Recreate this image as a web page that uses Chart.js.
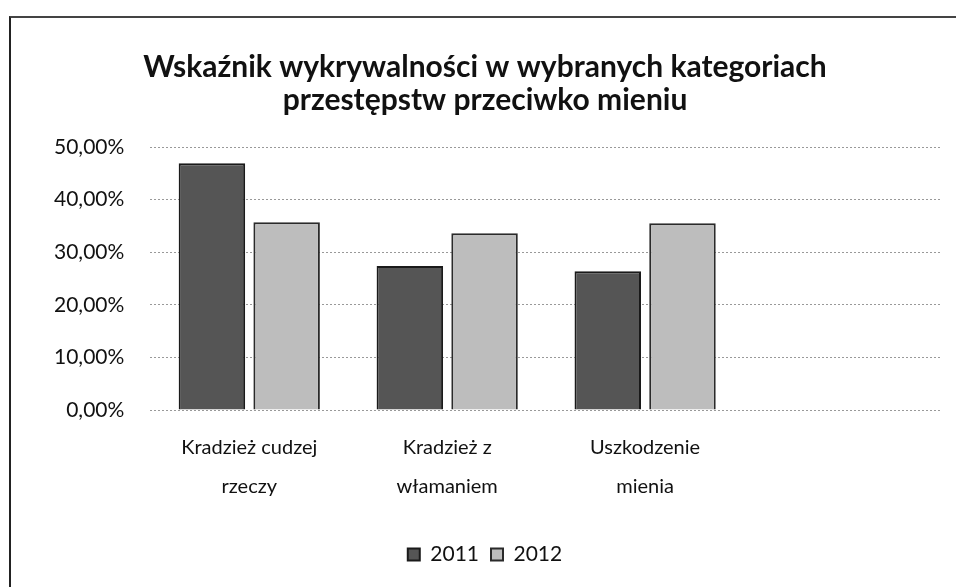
<!DOCTYPE html>
<html>
<head>
<meta charset="utf-8">
<script src="https://cdn.jsdelivr.net/npm/chart.js@4"></script>
<style>
    body { margin: 0; background: #fff; }
    #wrap { position: relative; width: 956px; height: 587px; }
    #frame { position: absolute; left: 9px; top: 16px; right: 0; bottom: 0; border-left: 2px solid #222; border-top: 2px solid #444; }
    canvas { position: absolute; left: 0; top: 0; }
</style>
</head>
<body>
<div id="wrap">
    <div id="frame"></div>
    <canvas id="chart" width="956" height="587"></canvas>
</div>
<script>
// Data
var categories = [["Kradzież cudzej", "rzeczy"], ["Kradzież z", "włamaniem"], ["Uszkodzenie", "mienia"], ""];
var values2011 = [46.9, 27.4, 26.4];
var values2012 = [35.7, 33.6, 35.5];
var seriesNames = ["2011", "2012"];
var titleLines = ["Wskaźnik wykrywalności w wybranych kategoriach", "przestępstw przeciwko mieniu"];

var fontFamily = "Lato, 'Open Sans', sans-serif";

new Chart(document.getElementById("chart").getContext("2d"), {
    type: "bar",
    data: {
        labels: categories,
        datasets: [{
            label: seriesNames[0],
            data: values2011,
            backgroundColor: "#555555",
            borderColor: "#1a1a1a",
            borderWidth: 2,
            categoryPercentage: 0.755,
            barPercentage: 0.89
        }, {
            label: seriesNames[1],
            data: values2012,
            backgroundColor: "#bdbdbd",
            borderColor: "#2a2a2a",
            borderWidth: 2,
            categoryPercentage: 0.755,
            barPercentage: 0.89
        }]
    },
    options: {
        responsive: false,
        animation: false,
        layout: { padding: { left: 28, right: 14, top: 51, bottom: 12 } },
        plugins: {
            title: {
                display: true,
                text: titleLines,
                color: "#111",
                font: { family: fontFamily, size: 30, weight: "bold", lineHeight: 1.1 },
                padding: { top: 0, bottom: 30 }
            },
            legend: {
                position: "bottom",
                labels: {
                    color: "#111",
                    font: { family: fontFamily, size: 21 },
                    boxWidth: 12,
                    boxHeight: 12,
                    padding: 12
                }
            },
            tooltip: { enabled: false }
        },
        scales: {
            x: {
                grid: { display: false },
                border: { display: false },
                // extra room between the category labels and the legend
                afterFit: function (scale) {
                    scale.height += 16;
                },
                ticks: {
                    color: "#111",
                    font: { family: fontFamily, size: 20, lineHeight: 1.95 },
                    maxRotation: 0,
                    padding: 10
                }
            },
            y: {
                min: 0,
                max: 50,
                border: { display: false, dash: [2, 2] },
                grid: { color: "#999", lineWidth: 1, drawTicks: false },
                ticks: {
                    stepSize: 10,
                    color: "#111",
                    padding: 26,
                    font: { family: fontFamily, size: 21 },
                    callback: function (value) {
                        return value.toFixed(2).replace(".", ",") + "%";
                    }
                }
            }
        }
    }
});
</script>
</body>
</html>
